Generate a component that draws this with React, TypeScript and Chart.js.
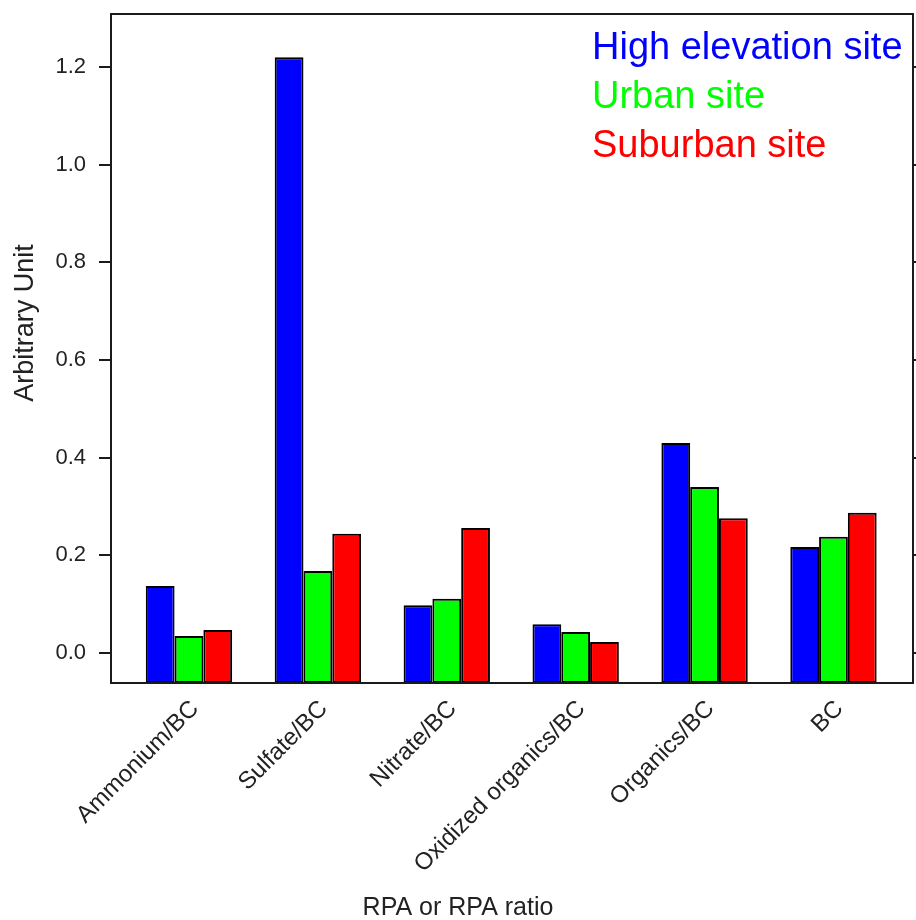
import React, { useEffect, useRef } from "react";
import { Chart, registerables } from "chart.js";

Chart.register(...registerables);

// ---- data ----
const categories = [
  "Ammonium/BC",
  "Sulfate/BC",
  "Nitrate/BC",
  "Oxidized organics/BC",
  "Organics/BC",
  "BC",
];
const highElevation = [0.137, 1.22, 0.098, 0.059, 0.43, 0.217];
const urban = [0.035, 0.168, 0.111, 0.043, 0.34, 0.238];
const suburban = [0.047, 0.244, 0.256, 0.0225, 0.276, 0.287];
const seriesNames = ["High elevation site", "Urban site", "Suburban site"];
const seriesColors = ["#0000ff", "#00ff00", "#ff0000"];
const yTicks = [0, 0.2, 0.4, 0.6, 0.8, 1.0, 1.2];
const xTitle = "RPA or RPA ratio";
const yTitle = "Arbitrary Unit";

const FONT = '"Liberation Sans", Arial, Helvetica, sans-serif';
const Y_MIN = -0.0614;
const Y_MAX = 1.3086;
const X_MIN = -0.605;
const X_MAX = 5.617;

const decorPlugin = {
  id: "decor",
  afterDraw(chart: any) {
    const { ctx, chartArea: a } = chart;
    ctx.save();
    // plot box
    ctx.strokeStyle = "#1a1a1a";
    ctx.lineWidth = 2;
    ctx.strokeRect(a.left, a.top, a.right - a.left, a.bottom - a.top);
    // legend texts
    ctx.font = `38px ${FONT}`;
    ctx.textAlign = "left";
    ctx.textBaseline = "alphabetic";
    seriesNames.forEach((n, i) => {
      ctx.fillStyle = seriesColors[i];
      ctx.fillText(n, a.left + 481, a.top + 45 + i * 49);
    });
    // x title
    ctx.fillStyle = "#222";
    ctx.font = `25px ${FONT}`;
    ctx.textAlign = "center";
    ctx.fillText(xTitle, chart.width / 2, chart.height - 5);
    // y title
    ctx.font = `27px ${FONT}`;
    ctx.translate(33, 323);
    ctx.rotate(-Math.PI / 2);
    ctx.textAlign = "center";
    ctx.textBaseline = "alphabetic";
    ctx.fillText(yTitle, 0, 0);
    ctx.restore();
  },
};

export default function App() {
  const ref = useRef<HTMLCanvasElement | null>(null);

  useEffect(() => {
    document.body.style.margin = "0";
    document.body.style.overflow = "hidden";
    const canvas = ref.current;
    if (!canvas) return;
    const seriesValues = [highElevation, urban, suburban];
    const chart = new Chart(canvas, {
      type: "bar",
      data: {
        datasets: seriesValues.map((vals, si) => ({
          label: seriesNames[si],
          data: vals.map((v, i) => ({ x: i, y: v })),
          backgroundColor: seriesColors[si],
          borderColor: "#000",
          borderWidth: 2,
          borderSkipped: false,
          base: Y_MIN,
          categoryPercentage: 0.67,
          barPercentage: 1.0,
          yAxisID: "y",
        })),
      },
      options: {
        responsive: false,
        animation: false,
        devicePixelRatio: 1,
        layout: { padding: { top: 14, left: 0, right: 0, bottom: 0 } },
        plugins: {
          legend: { display: false },
          tooltip: { enabled: false },
          title: { display: false },
        },
        scales: {
          x: {
            type: "linear",
            position: "bottom",
            min: X_MIN,
            max: X_MAX,
            offset: false,
            afterBuildTicks: (s: any) => {
              s.ticks = categories.map((_, i) => ({ value: i }));
            },
            afterFit: (s: any) => {
              s.height = 237;
              s.paddingLeft = 0;
              s.paddingRight = 0;
            },
            grid: { display: false, drawTicks: false },
            border: { display: false },
            ticks: {
              autoSkip: false,
              maxRotation: 45,
              minRotation: 45,
              padding: 12,
              labelOffset: 6,
              color: "#222",
              font: { family: FONT, size: 24 },
              callback: (v: any) => categories[Math.round(Number(v))] ?? "",
            },
          },
          y: {
            type: "linear",
            position: "left",
            min: Y_MIN,
            max: Y_MAX,
            afterBuildTicks: (s: any) => {
              s.ticks = yTicks.map((v) => ({ value: v }));
            },
            afterFit: (s: any) => {
              s.width = 111;
              s.paddingTop = 0;
              s.paddingBottom = 0;
            },
            grid: {
              display: true,
              drawOnChartArea: false,
              drawTicks: true,
              tickLength: 12,
              color: "#1a1a1a",
              lineWidth: 2,
            },
            border: { display: false },
            ticks: {
              padding: 13,
              color: "#222",
              font: { family: FONT, size: 22 },
              callback: (v: any) => Number(v).toFixed(1),
            },
          },
          y2: {
            type: "linear",
            position: "right",
            min: Y_MIN,
            max: Y_MAX,
            afterBuildTicks: (s: any) => {
              s.ticks = yTicks.map((v) => ({ value: v }));
            },
            afterFit: (s: any) => {
              s.width = 3;
              s.paddingTop = 0;
              s.paddingBottom = 0;
            },
            grid: {
              display: true,
              drawOnChartArea: false,
              drawTicks: true,
              tickLength: 12,
              color: "#1a1a1a",
              lineWidth: 2,
            },
            border: { display: false },
            ticks: { display: false },
          },
        },
      },
      plugins: [decorPlugin],
    } as any);
    return () => chart.destroy();
  }, []);

  return (
    <div style={{ width: 916, height: 920, background: "#fff" }}>
      <canvas ref={ref} width={916} height={920} style={{ display: "block" }} />
    </div>
  );
}
